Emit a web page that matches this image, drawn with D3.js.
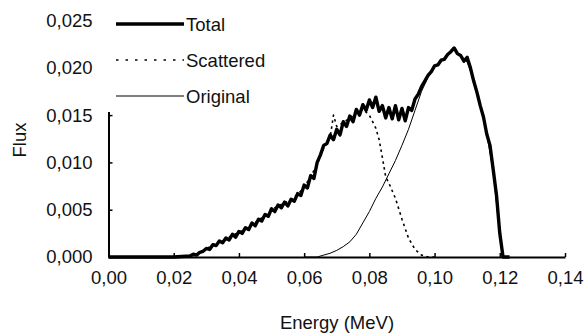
<!DOCTYPE html>
<html>
<head>
<meta charset="utf-8">
<script src="https://cdn.jsdelivr.net/npm/d3@7"></script>
<style>
    body { margin: 0; background: #fff; }
    svg text { font-family: "Liberation Sans", Arial, sans-serif; fill: #111; }
</style>
</head>
<body>
<div id="chart"></div>
<script>
// Total spectrum (MeV, flux)
const totalEnergy = [
    0.000, 0.020, 0.025, 0.026, 0.027, 0.028, 0.029, 0.030, 0.031, 0.032, 0.033, 0.034,
    0.035, 0.036, 0.037, 0.038, 0.039, 0.040, 0.041, 0.042, 0.043, 0.044, 0.045, 0.046,
    0.047, 0.048, 0.049, 0.050, 0.051, 0.052, 0.053, 0.054, 0.055, 0.056, 0.057, 0.058,
    0.059, 0.060, 0.061, 0.062, 0.063, 0.064, 0.065, 0.066, 0.067, 0.068, 0.069, 0.070,
    0.071, 0.072, 0.073, 0.074, 0.075, 0.076, 0.077, 0.078, 0.079, 0.080, 0.081, 0.082,
    0.083, 0.084, 0.085, 0.086, 0.087, 0.088, 0.089, 0.090, 0.091, 0.092, 0.093, 0.094,
    0.095, 0.096, 0.097, 0.098, 0.099, 0.100, 0.101, 0.102, 0.103, 0.104, 0.105, 0.106,
    0.107, 0.108, 0.109, 0.110, 0.111, 0.112, 0.113, 0.114, 0.115, 0.116, 0.117, 0.118,
    0.119, 0.120, 0.121, 0.123
];
const totalFlux = [
    0.0000, 0.0000, 0.0001, 0.0003, 0.0002, 0.0005, 0.0006, 0.0009, 0.0008, 0.0013, 0.0012, 0.0017,
    0.0015, 0.0020, 0.0018, 0.0024, 0.0021, 0.0027, 0.0025, 0.0031, 0.0029, 0.0036, 0.0033, 0.0040,
    0.0038, 0.0045, 0.0043, 0.0051, 0.0048, 0.0055, 0.0052, 0.0058, 0.0054, 0.0061, 0.0059, 0.0067,
    0.0065, 0.0076, 0.0073, 0.0086, 0.0083, 0.0100, 0.0108, 0.0118, 0.0120, 0.0129, 0.0124, 0.0135,
    0.0129, 0.0143, 0.0138, 0.0149, 0.0143, 0.0156, 0.0150, 0.0161, 0.0155, 0.0166, 0.0158, 0.0169,
    0.0154, 0.0160, 0.0147, 0.0158, 0.0146, 0.0160, 0.0145, 0.0157, 0.0144, 0.0158, 0.0155, 0.0167,
    0.0172, 0.0180, 0.0186, 0.0192, 0.0196, 0.0202, 0.0203, 0.0208, 0.0209, 0.0214, 0.0217, 0.0221,
    0.0215, 0.0213, 0.0207, 0.0211, 0.0200, 0.0186, 0.0174, 0.0160, 0.0148, 0.0130, 0.0118, 0.0092,
    0.0065, 0.0025, 0.0000, 0.0000
];

// Scattered component
const scatteredEnergy = [
    0.020, 0.024, 0.026, 0.028, 0.030, 0.032, 0.034, 0.036, 0.038, 0.040, 0.042, 0.044,
    0.046, 0.048, 0.050, 0.052, 0.054, 0.056, 0.058, 0.060, 0.062, 0.064, 0.066, 0.068,
    0.069, 0.070, 0.072, 0.074, 0.076, 0.078, 0.080, 0.082, 0.083, 0.084, 0.085, 0.086,
    0.088, 0.090, 0.092, 0.094, 0.096, 0.098, 0.100
];
const scatteredFlux = [
    0.0000, 0.0000, 0.0002, 0.0004, 0.0009, 0.0012, 0.0016, 0.0019, 0.0023, 0.0026, 0.0030, 0.0034,
    0.0039, 0.0044, 0.0050, 0.0054, 0.0057, 0.0061, 0.0066, 0.0074, 0.0085, 0.0098, 0.0115, 0.0127,
    0.0150, 0.0138, 0.0142, 0.0147, 0.0152, 0.0156, 0.0150, 0.0136, 0.0124, 0.0105, 0.0085, 0.0078,
    0.0062, 0.0040, 0.0020, 0.0008, 0.0002, 0.0000, 0.0000
];

// Original (unscattered) component
const originalEnergy = [
    0.060, 0.064, 0.066, 0.068, 0.070, 0.072, 0.074, 0.076, 0.078, 0.080, 0.082, 0.084,
    0.086, 0.088, 0.090, 0.092, 0.094, 0.096, 0.098, 0.100, 0.102, 0.104, 0.106, 0.108,
    0.110, 0.112, 0.114, 0.116, 0.118, 0.120, 0.121
];
const originalFlux = [
    0.0000, 0.0000, 0.0002, 0.0004, 0.0007, 0.0011, 0.0016, 0.0024, 0.0036, 0.0048, 0.0062, 0.0074,
    0.0088, 0.0102, 0.0118, 0.0135, 0.0155, 0.0175, 0.0190, 0.0201, 0.0207, 0.0213, 0.0219, 0.0213,
    0.0206, 0.0187, 0.0160, 0.0130, 0.0090, 0.0022, 0.0000
];

const xTicks = [0, 0.02, 0.04, 0.06, 0.08, 0.10, 0.12, 0.14];
const yTicks = [0, 0.005, 0.010, 0.015, 0.020, 0.025];
const seriesNames = ["Total", "Scattered", "Original"];

const W = 587, H = 335;
const margin = { top: 20.5, right: 22, bottom: 78, left: 108.5 };
const innerW = W - margin.left - margin.right;
const innerH = H - margin.top - margin.bottom;
const fontSize = 18.5;

const svg = d3.select("#chart").append("svg")
    .attr("width", W)
    .attr("height", H);

const g = svg.append("g")
    .attr("transform", `translate(${margin.left},${margin.top})`);

const x = d3.scaleLinear().domain([0, 0.14]).range([0, innerW]);
const y = d3.scaleLinear().domain([0, 0.025]).range([innerH, 0]);

const comma = d3.formatLocale({ decimal: ",", thousands: ".", grouping: [3], currency: ["", ""] });

const styles = {
    Total: { width: 3.4, dash: null },
    Scattered: { width: 1.6, dash: "2.5,3.5" },
    Original: { width: 1, dash: null }
};

const line = d3.line().x(d => x(d[0])).y(d => y(d[1]));

const series = [
    { name: "Scattered", pts: d3.zip(scatteredEnergy, scatteredFlux) },
    { name: "Original", pts: d3.zip(originalEnergy, originalFlux) },
    { name: "Total", pts: d3.zip(totalEnergy, totalFlux) }
];

g.selectAll(".series")
    .data(series)
    .enter()
    .append("path")
    .attr("class", "series")
    .attr("d", d => line(d.pts))
    .attr("fill", "none")
    .attr("stroke", "#000")
    .attr("stroke-width", d => styles[d.name].width)
    .attr("stroke-dasharray", d => styles[d.name].dash)
    .attr("stroke-linejoin", "round");

// axes, ticks drawn inward
const xAxis = g.append("g")
    .attr("transform", `translate(0,${innerH})`)
    .call(d3.axisBottom(x).tickValues(xTicks).tickSize(-4).tickSizeOuter(0).tickPadding(14)
        .tickFormat(comma.format(".2f")));

const yAxis = g.append("g")
    .call(d3.axisLeft(y).tickValues(yTicks).tickSize(-4).tickSizeOuter(0).tickPadding(16)
        .tickFormat(comma.format(".3f")));

[xAxis, yAxis].forEach(ax => {
    ax.select(".domain").attr("stroke", "#000").attr("stroke-width", 2);
    ax.selectAll(".tick line").attr("stroke", "#000").attr("stroke-width", 1.5);
    ax.selectAll("text")
        .style("font-family", '"Liberation Sans", Arial, sans-serif')
        .style("font-size", fontSize + "px")
        .attr("fill", "#111");
});

// legend box covers the top of the y axis
const legend = svg.append("g").attr("transform", "translate(100,8)");
legend.append("rect")
    .attr("width", 170)
    .attr("height", 104)
    .attr("fill", "#fff");

seriesNames.forEach((name, i) => {
    const ly = 16 + i * 36;
    legend.append("line")
        .attr("x1", 16).attr("x2", 84)
        .attr("y1", ly).attr("y2", ly)
        .attr("stroke", "#000")
        .attr("stroke-width", name === "Total" ? 3.5 : (name === "Scattered" ? 1.6 : 1.2))
        .attr("stroke-dasharray", name === "Scattered" ? "2.5,7" : null);
    legend.append("text")
        .attr("x", 86)
        .attr("y", ly)
        .attr("dy", "0.36em")
        .style("font-size", fontSize + "px")
        .text(name);
});

svg.append("text")
    .attr("transform", `translate(26,140) rotate(-90)`)
    .attr("text-anchor", "middle")
    .style("font-size", fontSize + "px")
    .text("Flux");

svg.append("text")
    .attr("x", 337)
    .attr("y", 329)
    .attr("text-anchor", "middle")
    .style("font-size", fontSize + "px")
    .text("Energy (MeV)");
</script>
</body>
</html>
